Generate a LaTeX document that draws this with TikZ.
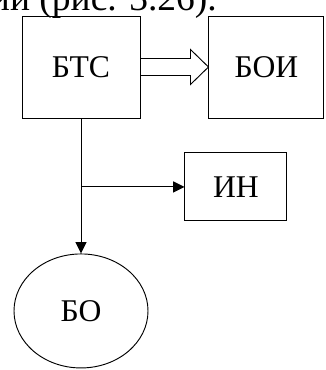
\documentclass[tikz,border=0pt]{standalone}
\usepackage{fontspec}
\setmainfont{Liberation Serif}
\usetikzlibrary{shapes.geometric, arrows.meta, positioning, calc}
\tikzstyle{block} = [rectangle, draw, line width=0.8pt, inner sep=0pt, font=\fontsize{27}{30}\selectfont]
\tikzstyle{oval} = [ellipse, draw, line width=0.8pt, inner sep=0pt, minimum width=4.02cm, minimum height=3.42cm, font=\fontsize{27}{30}\selectfont]
\tikzstyle{arrow} = [-{Triangle[length=3.4mm, width=3.3mm]}, line width=0.8pt]
\tikzstyle{fatarrow} = [line width=0.8pt, line join=miter]
\tikzstyle{caption} = [inner sep=0pt, font=\fontsize{32}{36}\selectfont]

\begin{document}
\begin{tikzpicture}[x=0.03cm, y=-0.03cm]
    \useasboundingbox (0,0) rectangle (325,370);
    % Nodes
    \node[caption, anchor=base east] (ref) at (217,11) {ии (рис. 3.26).};
    \node[block, minimum width=3.54cm, minimum height=3.06cm] (btc) at (81,67) {БТС};
    \node[block, minimum width=3.45cm, minimum height=3.06cm, right=2.04cm of btc] (boi) {БОИ};
    \node[block, minimum width=3.06cm, minimum height=2.04cm, below right=1.02cm and 1.32cm of btc] (in) {ИН};
    \node[oval, below=4.05cm of btc] (bo) {БО};

    % Arrows
    \draw[fatarrow] ($(btc.east)+(0,-8.5)$) -- ($(boi.west)+(-18,-8.5)$) -- ($(boi.west)+(-18,-17.5)$)
        -- (boi.west) -- ($(boi.west)+(-18,17.5)$) -- ($(boi.west)+(-18,8.5)$) -- ($(btc.east)+(0,8.5)$);
    \draw[arrow] (btc) -- (bo);
    \coordinate (fork) at (btc.south |- in.west);
    \draw[arrow] (fork) -- (in.west);
\end{tikzpicture}
\end{document}
